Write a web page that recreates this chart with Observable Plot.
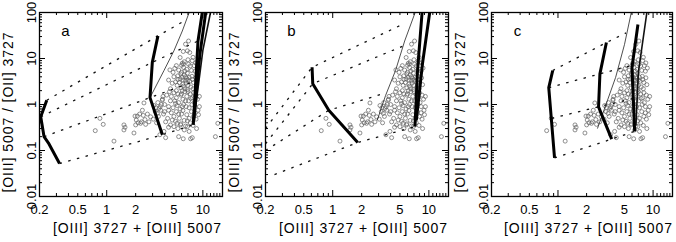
<!DOCTYPE html>
<html><head><meta charset="utf-8">
<script src="https://cdn.jsdelivr.net/npm/d3@7"></script>
<script src="https://cdn.jsdelivr.net/npm/@observablehq/plot@0.6"></script>
<style>
html,body{margin:0;padding:0;background:#fff;}
#wrap{position:relative;width:676px;height:242px;overflow:hidden;background:#fff;}
#wrap svg{position:absolute;top:0;}
</style></head><body><div id="wrap"></div>
<script>
// ---------- labels & ticks ----------
const xTickLabels = [0.2, 0.5, 1, 2, 5, 10];
const yTickLabels = [0.01, 0.1, 1, 10, 100];
const xMajor = [1, 10];
const xMinor = [0.3,0.4,0.5,0.6,0.7,0.8,0.9,2,3,4,5,6,7,8,9,11,12,13,14,15];
const yMajor = [0.1, 1, 10];
const yMinor = [0.02,0.03,0.04,0.05,0.06,0.07,0.08,0.09,0.2,0.3,0.4,0.5,0.6,0.7,0.8,0.9,2,3,4,5,6,7,8,9,20,30,40,50,60,70,80,90];
const xTitle = "[OIII] 3727 + [OIII] 5007";
const yTitle = "[OIII] 5007 / [OII] 3727";
const panelLetters = ["a", "b", "c"];

// ---------- observed objects (same in every panel) ----------
const obs = [
[0.85,0.50],[0.92,0.37],[0.76,0.27],[1.19,0.16],[1.51,0.36],[1.55,0.32],[1.51,0.28],[1.92,0.24],[1.97,0.56],[2.0,0.36],[2.03,0.46],[2.12,0.40],[2.3,0.42],[2.4,0.58],[2.25,0.39],[2.54,0.37],[2.75,0.42],[2.86,0.54],[2.44,1.08],[2.35,0.75],[2.08,0.56],[2.65,0.62],[2.2,0.62],[2.5,0.47],
[3.5,0.82],[3.64,0.75],[3.36,0.64],[3.78,1.24],[3.57,0.22],[3.94,0.26],[4.1,0.19],[3.2,0.70],[3.45,0.55],[3.9,0.62],[3.05,0.48],[3.3,0.4],[3.7,1.0],[3.4,1.1],[3.1,0.95],[3.85,1.5],[3.6,0.9],[3.25,0.85],
[5.6,0.20],[6.25,0.18],[7.76,0.19],[7.45,0.18],[5.0,0.33],[5.4,0.39],[5.87,0.36],[6.9,0.33],[4.8,0.46],[13.5,0.20],[14.3,0.39],[9.2,1.5],[4.4,0.32],[6.4,0.28],[7.2,0.26],[8.6,0.30],
[6.9,14.7],[7.3,13.5],[7.1,24],[6.25,14.2],[6.1,7.85],[6.3,7.6],[4.54,5.65],[7.76,8.97],[8.1,7.0],[5.8,10.5],[7.0,9.4],[6.6,20.5],[7.9,10.6],[8.4,8.0],[8.7,6.2],[5.3,7.0],
[5.2,3.1],[5.5,4.2],[5.8,3.6],[6.0,5.0],[6.2,2.8],[6.4,4.4],[6.6,3.3],[6.8,5.8],[7.0,2.6],[7.2,3.9],[5.9,2.3],[6.3,6.4],[6.9,4.8],[7.4,6.9],[5.6,5.6],[6.1,3.9],[6.5,2.2],[7.7,4.1],[8.0,3.0],[7.1,7.5],[5.4,2.6],[6.7,2.9],[6.0,7.1],[7.5,2.4],[8.3,5.3],[5.0,4.0],[4.8,2.9],[6.2,3.4],[6.8,3.7],[7.3,3.2],[6.5,5.3],[5.7,3.0],[6.9,2.1],[7.9,2.2],[8.6,2.7],[8.4,3.8],[4.6,2.2],[5.3,2.0],[6.1,2.0],[7.6,5.5],[5.1,6.1],[6.4,8.5],[4.4,3.4],[5.9,4.6],[6.6,4.0],[7.0,3.4],[5.5,3.5],[6.3,2.5],[7.8,3.5],[4.9,5.0],
[4.2,1.6],[4.6,1.2],[5.0,1.8],[5.3,1.4],[5.6,1.1],[5.9,1.6],[6.2,1.3],[6.5,1.9],[6.8,1.5],[7.1,1.2],[7.4,1.7],[7.8,1.4],[8.1,1.1],[8.5,1.6],[4.0,1.0],[4.4,0.9],[4.9,0.85],[5.4,0.95],[5.8,0.8],[6.3,1.0],[6.7,0.9],[7.2,0.85],[7.7,1.0],[8.3,0.9],[3.8,1.3],[5.1,1.2],[6.0,1.7],[7.0,1.9],[8.8,1.3],[9.2,0.9],[4.7,1.5],[5.5,1.7],[6.6,1.2],[7.5,1.35],[5.2,1.05],[6.1,0.9],[4.5,1.9],[8.0,1.8],
[4.3,0.5],[4.7,0.66],[5.0,0.55],[5.3,0.7],[5.7,0.5],[6.0,0.62],[6.4,0.45],[6.8,0.6],[7.2,0.5],[7.6,0.7],[8.0,0.55],[8.5,0.48],[9.0,0.6],[4.1,0.42],[4.6,0.36],[5.2,0.43],[5.9,0.38],[6.6,0.34],[7.4,0.4],[8.9,0.75],[4.4,0.75],[6.2,0.74],[7.9,0.35],[5.5,0.3],[4.0,0.7],[5.6,0.62],[6.9,0.44],[8.3,0.66]
];

// ---------- panel a models ----------
const aThickLeft = [[0.238,1.24],[0.206,0.54],[0.223,0.20],[0.248,0.145],[0.323,0.052]];
const aThickMid  = [[3.41,31],[2.98,8.24],[2.82,1.41],[3.79,0.219]];
const aThin      = [[2.82,1.41],[3.94,5.47],[5.0,14.7],[6.11,39.6],[7.2,100]];
const aRight1    = [[7.95,0.36],[8.9,24],[9.86,100]];
const aRight2    = [[8.05,0.46],[9.3,12],[10.7,100]];
const aRight3    = [[8.4,0.89],[10.0,15],[12.0,100]];
const aDot1 = [[0.238,1.24],[3.41,31],[6.6,68]];
const aDot2 = [[0.206,0.54],[2.98,8.24],[8.9,24]];
const aDot3 = [[0.223,0.20],[2.82,1.41],[8.5,3.3]];
const aDot4 = [[0.323,0.052],[3.79,0.219],[7.95,0.36]];

// ---------- panel b models ----------
const bThick   = [[0.61,6.44],[0.62,2.83],[0.91,0.75],[1.82,0.149]];
const bThin    = [[2.91,0.46],[3.55,1.58],[4.5,5.47],[5.6,24],[7.2,100]];
const bRight1  = [[7.17,0.33],[7.6,5],[8.5,100]];
const bRight2  = [[7.4,0.45],[8.6,8],[10.2,100]];
const bDot1 = [[0.2,0.3],[0.61,6.44],[5.5,57]];
const bDot2 = [[0.2,0.14],[0.62,2.83],[5.4,18.7]];
const bDot3 = [[0.2,0.1],[0.91,0.75],[3.3,1.7]];
const bDot4 = [[0.248,0.030],[1.82,0.149],[7.17,0.33]];

// ---------- panel c models ----------
const cThickLeft = [[0.88,5.47],[0.80,2.32],[0.92,0.069]];
const cThickMid  = [[3.23,22.2],[2.76,4.64],[2.67,0.89],[3.67,0.177]];
const cThin      = [[2.6,0.30],[3.3,1.2],[4.04,3.9],[5.0,20],[5.9,100]];
const cRight1    = [[6.4,0.26],[6.0,6.4],[6.93,55]];
const cRight2    = [[6.6,0.35],[7.0,5],[8.6,100]];
const cDot1 = [[0.88,5.47],[3.23,22.2],[5.2,36]];
const cDot2 = [[0.80,2.32],[2.76,4.64],[6.0,7.1]];
const cDot3 = [[0.86,0.5],[2.67,0.89],[6.1,1.34]];
const cDot4 = [[0.92,0.069],[3.67,0.177],[6.4,0.26]];

const panels = [
  {left: 0,   frameW: 183, thick: [aThickLeft, aThickMid, aRight1, aRight2], medium: [aRight3], thin: [aThin], dotted: [aDot1,aDot2,aDot3,aDot4]},
  {left: 226, frameW: 183, thick: [bThick, bRight1, bRight2], medium: [], thin: [bThin], dotted: [bDot1,bDot2,bDot3,bDot4]},
  {left: 452, frameW: 181, thick: [cThickLeft, cThickMid, cRight1], medium: [cRight2], thin: [cThin], dotted: [cDot1,cDot2,cDot3,cDot4]}
];

const H = 242, mT = 12, mB = 46, mL = 39, frameH = H - mT - mB;
const xTitleLen = 168, yTitleLen = 160;
const wrap = document.getElementById("wrap");
const centered = {textAnchor: "middle", lineAnchor: "middle", fill: "#000"};

panels.forEach((p, i) => {
  const W = mL + p.frameW + 3;
  const lineMarks = [];
  const xy = {x: d => d[0], y: d => d[1], clip: true, strokeLinejoin: "round", strokeLinecap: "butt"};
  p.dotted.forEach(l => lineMarks.push(Plot.line(l, {...xy, stroke: "#111", strokeWidth: 1.3, strokeDasharray: "2.5,6.5"})));
  p.thin.forEach(l => lineMarks.push(Plot.line(l, {...xy, stroke: "#222", strokeWidth: 0.8})));
  p.medium.forEach(l => lineMarks.push(Plot.line(l, {...xy, stroke: "#111", strokeWidth: 1.6})));
  p.thick.forEach(l => lineMarks.push(Plot.line(l, {...xy, stroke: "#000", strokeWidth: 3})));
  const chart = Plot.plot({
    width: W, height: H,
    marginTop: mT, marginBottom: mB, marginLeft: mL, marginRight: 3,
    x: {type: "log", domain: [0.2, 16], axis: null},
    y: {type: "log", domain: [0.01, 100], axis: null},
    style: {fontFamily: "'Liberation Sans', Arial, Helvetica, sans-serif", background: "white", overflow: "visible"},
    marks: [
      Plot.dot(obs, {x: d => d[0], y: d => d[1], r: 2, stroke: "#606060", strokeWidth: 0.7, fill: "none", clip: true}),
      ...lineMarks,
      // ticks (inward on all four sides)
      Plot.tickX(xMinor, {x: d => d, insetTop: frameH - 3, stroke: "#000"}),
      Plot.tickX(xMajor, {x: d => d, insetTop: frameH - 6, stroke: "#000"}),
      Plot.tickX(xMinor, {x: d => d, insetBottom: frameH - 3, stroke: "#000"}),
      Plot.tickX(xMajor, {x: d => d, insetBottom: frameH - 6, stroke: "#000"}),
      Plot.tickY(yMinor, {y: d => d, insetRight: p.frameW - 3, stroke: "#000"}),
      Plot.tickY(yMajor, {y: d => d, insetRight: p.frameW - 6, stroke: "#000"}),
      Plot.tickY(yMinor, {y: d => d, insetLeft: p.frameW - 3, stroke: "#000"}),
      Plot.tickY(yMajor, {y: d => d, insetLeft: p.frameW - 6, stroke: "#000"}),
      Plot.frame({stroke: "#000", strokeWidth: 1.3}),
      // tick labels
      Plot.text(xTickLabels, {x: d => d, text: d => String(d), frameAnchor: "bottom", dy: 13, fontSize: 13, ...centered}),
      Plot.text(yTickLabels, {y: d => d, text: d => String(d), frameAnchor: "left", rotate: -90, dx: -8, fontSize: 13, ...centered}),
      // axis titles (start-anchored, fixed length)
      Plot.text([xTitle], {frameAnchor: "bottom", textAnchor: "start", lineAnchor: "middle", dx: -78, dy: 32, fontSize: 14, fill: "#000"}),
      Plot.text([yTitle], {frameAnchor: "left", rotate: -90, textAnchor: "start", lineAnchor: "middle", dx: -31, dy: 88, fontSize: 14, fill: "#000"}),
      // panel letter
      Plot.text([panelLetters[i]], {frameAnchor: "top-left", dx: 26, dy: 19, fontSize: 15, ...centered})
    ]
  });
  chart.querySelectorAll("text").forEach(t => {
    if (t.textContent === xTitle) { t.setAttribute("textLength", xTitleLen); t.setAttribute("lengthAdjust", "spacing"); }
    if (t.textContent === yTitle) { t.setAttribute("textLength", yTitleLen); t.setAttribute("lengthAdjust", "spacing"); }
  });
  chart.style.left = p.left + "px";
  wrap.appendChild(chart);
});
</script></body></html>
